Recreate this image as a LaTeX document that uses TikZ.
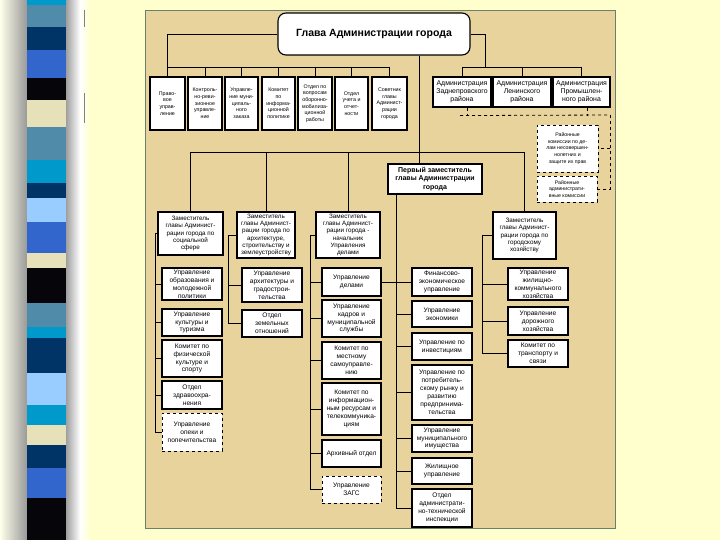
\documentclass[tikz,border=0pt]{standalone}
\usepackage{fontspec}
\setmainfont{Liberation Sans}
\usepackage{tikz}
\usetikzlibrary{%
	calc,%
	positioning
}
\definecolor{slidebg}{RGB}{255,255,206}
\definecolor{chartbg}{RGB}{231,211,155}
\definecolor{chartframe}{RGB}{105,128,108}
\definecolor{stripcyan}{RGB}{0,153,204}
\definecolor{stripsteel}{RGB}{80,140,170}
\definecolor{stripnavy}{RGB}{0,51,102}
\definecolor{striproyal}{RGB}{51,102,204}
\definecolor{stripbeige}{RGB}{230,225,185}
\definecolor{striplight}{RGB}{153,204,255}
\definecolor{stripblack}{RGB}{5,5,10}

\newcommand{\orgunit}[7][]{%
	\node[orgbox,#1,minimum width={(#4-#2)*1pt},minimum height={(#5-#3)*1pt}] (#6) at ({(#2+#4)/2},{(#3+#5)/2}) {#7};%
}

\begin{document}
\begin{tikzpicture}[x=1pt, y=-1pt,
		orgbox/.style={draw, line width=1.1pt, fill=white, inner sep=0pt, align=center, font=\fontsize{6.6}{7.9}\selectfont},
		dashbox/.style={dashed, line width=0.9pt},
		toprow/.style={font=\fontsize{5.3}{6.7}\selectfont},
		sidebox/.style={font=\fontsize{5.2}{6.7}\selectfont},
		deputy/.style={font=\fontsize{6.3}{7.2}\selectfont},
		district/.style={font=\fontsize{6.9}{7.8}\selectfont},
		link/.style={line width=0.8pt},
		dlink/.style={line width=0.8pt, dashed}
	]
	\useasboundingbox (0,0) rectangle (720,540);
	\fill[slidebg] (0,0) rectangle (720,540);
	
	\shade[left color=slidebg!40!white, right color=gray!80] (0,0) rectangle (27,540);
	\shade[left color=gray!75, right color=white] (66,0) rectangle (80,540);
	\shade[left color=white, right color=slidebg] (80,0) rectangle (90,540);
	\foreach \ya/\yb/\c in {0/5/stripcyan, 5/27/stripsteel, 27/50/stripnavy, 50/78/striproyal, 78/100/stripblack, 100/127/stripbeige, 127/160/stripsteel, 160/183/stripcyan, 183/198/stripnavy, 198/222/striplight, 222/253/striproyal, 253/268/stripbeige, 268/303/stripblack, 303/327/stripsteel, 327/338/stripcyan, 338/373/stripnavy, 373/405/striplight, 405/425/stripcyan, 425/445/stripbeige, 445/468/stripnavy, 468/498/striproyal, 498/540/stripblack}
		\fill[\c] (27,\ya) rectangle (66,\yb);
	\draw[gray, line width=0.6pt] (84,10) -- (84,27) (84,93) -- (84,123);
	
	\fill[chartbg] (145,10) rectangle (615,528);
	\draw[chartframe, line width=0.7pt] (145,10) rectangle (615,528);
	
	\node[orgbox, rounded corners=8pt, minimum width=192pt, minimum height=42pt, font=\fontsize{10.5}{12}\selectfont\bfseries] (head) at (374,34) {Глава Администрации города};
	
	\orgunit[toprow]{150}{77}{185}{130}{pravo}{Право-\\вое\\управ-\\ление}
	\orgunit[toprow]{188}{77}{222}{130}{kontrol}{Контроль-\\но-реви-\\зионное\\управле-\\ние}
	\orgunit[toprow]{225}{77}{258}{130}{zakaz}{Управле-\\ние муни-\\ципаль-\\ного\\заказа}
	\orgunit[toprow]{262}{77}{295}{130}{infopol}{Комитет\\по\\информа-\\ционной\\политике}
	\orgunit[toprow]{298}{77}{332}{130}{mobil}{Отдел по\\вопросам\\оборонно-\\мобилиза-\\ционной\\работы}
	\orgunit[toprow]{335}{77}{368}{130}{uchet}{Отдел\\учета и\\отчет-\\ности}
	\orgunit[toprow]{372}{77}{407}{130}{sovet}{Советник\\главы\\Админист-\\рации\\города}
	
	\orgunit[district]{433}{77}{491}{107}{zadn}{Администрация\\Заднепровского\\района}
	\orgunit[district]{493}{77}{551}{107}{lenin}{Администрация\\Ленинского\\района}
	\orgunit[district]{553}{77}{610}{107}{prom}{Администрация\\Промышлен-\\ного района}
	
	\orgunit[sidebox,dashbox]{537}{125}{598}{172}{kdn}{Районные\\комиссии по де-\\лам несовершен-\\нолетних и\\защите их прав}
	\orgunit[sidebox,dashbox]{537}{176}{597}{202}{admkom}{Районные\\администрати-\\вные комиссии}
	
	\orgunit[font=\fontsize{7}{8.6}\selectfont\bfseries]{388}{164}{482}{194}{first}{Первый заместитель\\главы Администрации\\города}
	
	\orgunit[deputy]{158}{212}{223}{255}{depsoc}{Заместитель\\главы Админист-\\рации города по\\социальной\\сфере}
	\orgunit[deputy]{237}{212}{295}{258}{deparch}{Заместитель\\главы Админист-\\рации города по\\архитектуре,\\строительству и\\землеустройству}
	\orgunit[deputy]{316}{212}{380}{258}{depdel}{Заместитель\\главы Админист-\\рации города -\\начальник\\Управления\\делами}
	\orgunit[deputy]{493}{212}{556}{259}{depgh}{Заместитель\\главы Админист-\\рации города по\\городскому\\хозяйству}
	
	\orgunit{162}{268}{222}{300}{obraz}{Управление\\образования и\\молодежной\\политики}
	\orgunit{162}{309}{222}{336}{kult}{Управление\\культуры и\\туризма}
	\orgunit{162}{340}{222}{377}{sport}{Комитет по\\физической\\культуре и\\спорту}
	\orgunit{162}{381}{222}{409}{zdrav}{Отдел\\здравоохра-\\нения}
	\orgunit[dashbox]{162}{413}{222}{451}{opeka}{Управление\\опеки и\\попечительства}
	
	\orgunit{242}{268}{302}{302}{arch}{Управление\\архитектуры и\\градострои-\\тельства}
	\orgunit{242}{310}{302}{337}{zeml}{Отдел\\земельных\\отношений}
	
	\orgunit{322}{268}{381}{296}{delami}{Управление\\делами}
	\orgunit{322}{300}{381}{337}{kadry}{Управление\\кадров и\\муниципальной\\службы}
	\orgunit{322}{342}{381}{379}{msu}{Комитет по\\местному\\самоуправле-\\нию}
	\orgunit{322}{383}{381}{435}{inform}{Комитет по\\информацион-\\ным ресурсам и\\телекоммуника-\\циям}
	\orgunit{322}{440}{381}{467}{archiv}{Архивный отдел}
	\orgunit[dashbox]{322}{476}{381}{503}{zags}{Управление\\ЗАГС}
	
	\orgunit{412}{268}{472}{296}{fin}{Финансово-\\экономическое\\управление}
	\orgunit{412}{301}{472}{327}{econ}{Управление\\экономики}
	\orgunit{412}{333}{472}{360}{invest}{Управление по\\инвестициям}
	\orgunit{412}{365}{472}{420}{potreb}{Управление по\\потребитель-\\скому рынку и\\развитию\\предпринима-\\тельства}
	\orgunit{412}{425}{472}{452}{imush}{Управление\\муниципального\\имущества}
	\orgunit{412}{458}{472}{484}{zhil}{Жилищное\\управление}
	\orgunit{412}{489}{472}{527}{oati}{Отдел\\администрати-\\но-технической\\инспекции}
	
	\orgunit{508}{268}{568}{300}{zhkh}{Управление\\жилищно-\\коммунального\\хозяйства}
	\orgunit{508}{307}{568}{335}{dor}{Управление\\дорожного\\хозяйства}
	\orgunit{508}{340}{568}{367}{trans}{Комитет по\\транспорту и\\связи}
	
	\coordinate (busA) at (0,67);
	\coordinate (busB) at (485,67);
	\coordinate (busC) at (419,152);
	\coordinate (dbus) at (610,115);
	\coordinate (colA) at (155,0);
	\coordinate (colB) at (228,0);
	\coordinate (colC) at (310,0);
	\coordinate (colD) at (396,0);
	\coordinate (colE) at (482,0);
	
	\draw[link] (head.west) -| (pravo.north);
	\draw[link] (pravo.north |- busA) -- (sovet.north |- busA);
	\foreach \n in {kontrol,zakaz,infopol,mobil,uchet,sovet}
		\draw[link] (\n.north |- busA) -- (\n.north);
	
	\draw[link] (head.east) -| (busB);
	\draw[link] (zadn.north |- busB) -- (prom.north |- busB);
	\foreach \n in {zadn,lenin,prom}
		\draw[link] (\n.north |- busB) -- (\n.north);
	
	\draw[dlink] (zadn.south) ++(5,0) -- ++(0,8) coordinate (dleft);
	\draw[dlink] (dleft) ++(-7,0) -- (dbus);
	\draw[dlink] (prom.south) ++(6,0) -- ++(0,8);
	\draw[dlink] (dbus) -- (dbus |- admkom.east) -- (admkom.east);
	\draw[dlink] (dbus |- kdn.east) -- (kdn.east);
	
	\draw[link] (head.south -| busC) -- (busC |- first.north);
	\draw[link] (depsoc.north |- busC) -- (depgh.north |- busC);
	\foreach \n in {depsoc,deparch,depdel,depgh}
		\draw[link] (\n.north |- busC) -- (\n.north);
	
	\draw[link] (depsoc.west) -- (depsoc.west -| colA) -- (colA |- opeka.west);
	\foreach \n in {obraz,kult,sport,zdrav,opeka}
		\draw[link] (colA |- \n.west) -- (\n.west);
	
	\draw[link] (deparch.west) -- (deparch.west -| colB) -- (colB |- zeml.west);
	\foreach \n in {arch,zeml}
		\draw[link] (colB |- \n.west) -- (\n.west);
	
	\draw[link] (depdel.west) -- (depdel.west -| colC) -- (colC |- zags.west);
	\foreach \n in {delami,kadry,msu,inform,archiv,zags}
		\draw[link] (colC |- \n.west) -- (\n.west);
	
	\draw[link] (first.south -| colD) -- (colD |- oati.west);
	\foreach \n in {fin,econ,invest,potreb,imush,zhil,oati}
		\draw[link] (colD |- \n.west) -- (\n.west);
	\draw[link] (delami.east) -- (fin.west);
	
	\draw[link] (depgh.west) -- (depgh.west -| colE) -- (colE |- trans.west);
	\foreach \n in {zhkh,dor,trans}
		\draw[link] (colE |- \n.west) -- (\n.west);
\end{tikzpicture}
\end{document}
